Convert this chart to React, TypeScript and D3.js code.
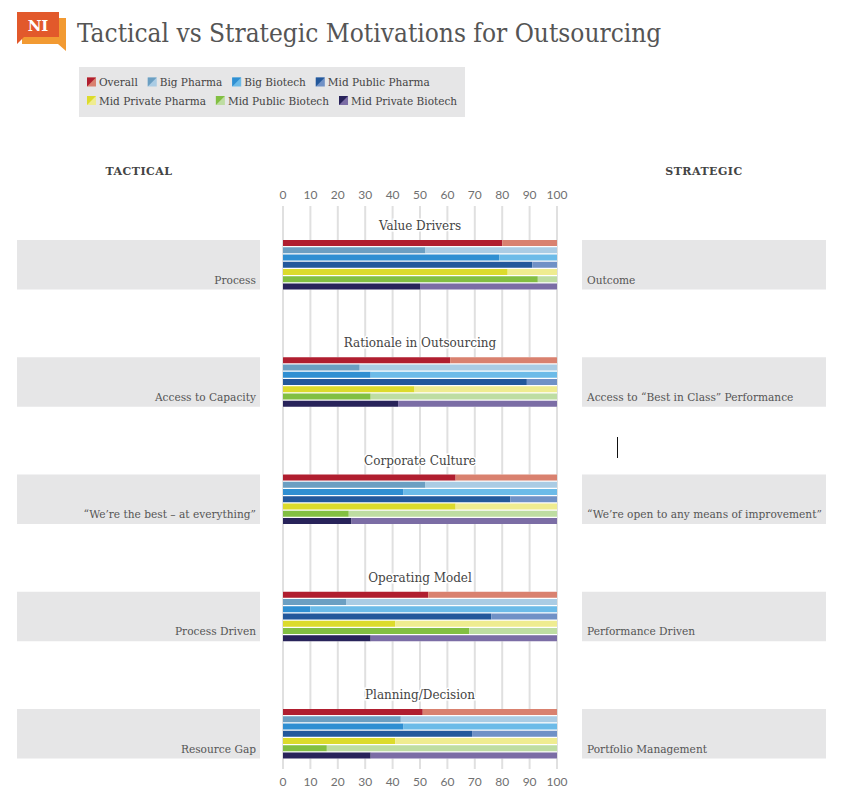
import React, { useEffect } from "react";
import * as d3 from "d3";

const CATEGORIES = [
  "Overall",
  "Big Pharma",
  "Big Biotech",
  "Mid Public Pharma",
  "Mid Private Pharma",
  "Mid Public Biotech",
  "Mid Private Biotech",
];
const DARK = ["#b01e2f", "#6b9fc2", "#2f8fd2", "#23589b", "#dcdb2c", "#82bf42", "#28235a"];
const LIGHT = ["#d9816f", "#aacce4", "#6cbbe8", "#7091c6", "#efec90", "#bedda2", "#7b6da5"];

const GROUPS = [
  "Value Drivers",
  "Rationale in Outsourcing",
  "Corporate Culture",
  "Operating Model",
  "Planning/Decision",
];
const TACTICAL = [
  "Process",
  "Access to Capacity",
  "\u201cWe\u2019re the best \u2013 at everything\u201d",
  "Process Driven",
  "Resource Gap",
];
const STRATEGIC = [
  "Outcome",
  "Access to \u201cBest in Class\u201d Performance",
  "\u201cWe\u2019re open to any means of improvement\u201d",
  "Performance Driven",
  "Portfolio Management",
];

// % tactical share per category
const VALUE_DRIVERS = [80, 52, 79, 91, 82, 93, 50];
const RATIONALE = [61, 28, 32, 89, 48, 32, 42];
const CORPORATE_CULTURE = [63, 52, 44, 83, 63, 24, 25];
const OPERATING_MODEL = [53, 23, 10, 76, 41, 68, 32];
const PLANNING_DECISION = [51, 43, 44, 69, 41, 16, 32];
const VALUES = [VALUE_DRIVERS, RATIONALE, CORPORATE_CULTURE, OPERATING_MODEL, PLANNING_DECISION];

const TICKS = [0, 10, 20, 30, 40, 50, 60, 70, 80, 90, 100];

const SERIF = "'DejaVu Serif', serif";
const SANS = "Lato, 'DejaVu Sans', sans-serif";

const width = 847;
const height = 806;

let ctx: CanvasRenderingContext2D | null = null;
function textWidth(s: string, font: string) {
  if (!ctx) ctx = document.createElement("canvas").getContext("2d");
  if (!ctx) return s.length * 6;
  ctx.font = font;
  return ctx.measureText(s).width;
}

const Swatch = ({ x, y, i }: { x: number; y: number; i: number }) => (
  <g transform={`translate(${x},${y})`}>
    <rect width={9} height={9} fill={LIGHT[i]} />
    <path d="M0,0 L9,0 L0,9 Z" fill={DARK[i]} />
  </g>
);

const App = () => {
  useEffect(() => {
    document.body.style.margin = "0";
  }, []);

  const x = d3.scaleLinear().domain([0, 100]).range([283, 557]);
  const groupY = d3.scaleLinear().domain([0, GROUPS.length - 1]).range([240, 709]);
  const rowY = d3.scaleBand().domain(CATEGORIES).range([0, 49.5]).paddingInner(0.17);
  const blockH = 49.5;

  // legend layout
  const legendFont = `10.5px ${SERIF}`;
  const rows = [CATEGORIES.slice(0, 4), CATEGORIES.slice(4)];
  const legendItems: { name: string; i: number; x: number; y: number }[] = [];
  let idx = 0;
  rows.forEach((row, r) => {
    let cx = 87;
    row.forEach((name) => {
      legendItems.push({ name, i: idx, x: cx, y: 86 + r * 18.5 });
      cx += 12 + textWidth(name, legendFont) + 10;
      idx++;
    });
  });

  return (
    <svg width={width} height={height} style={{ display: "block", background: "#fff" }}>
      {/* logo */}
      <path d="M22,18 L66,18 L66,51 L58,44 L22,44 Z" fill="#f29a32" />
      <path d="M17,12 L59,12 L59,37 L24,37 L17,44 Z" fill="#e2592b" />
      <text x={38} y={31} textAnchor="middle" fill="#fff" fontFamily={SERIF} fontWeight="bold" fontSize={15}>
        NI
      </text>
      <text x={77} y={42} fontFamily={SERIF} fontSize={26} fill="#555" style={{ fontStretch: "condensed" }}>
        Tactical vs Strategic Motivations for Outsourcing
      </text>

      {/* legend */}
      <rect x={79} y={67} width={386} height={50} fill="#e6e6e7" />
      {legendItems.map((d) => (
        <g key={d.name}>
          <Swatch x={d.x} y={d.y - 8.5} i={d.i} />
          <text x={d.x + 12} y={d.y} fontFamily={SERIF} fontSize={10.5} fill="#444">
            {d.name}
          </text>
        </g>
      ))}

      {/* column heads */}
      <text x={139} y={175} textAnchor="middle" fontFamily={SERIF} fontSize={11} fontWeight="bold" fill="#444" letterSpacing={0.5}>
        TACTICAL
      </text>
      <text x={704} y={175} textAnchor="middle" fontFamily={SERIF} fontSize={11} fontWeight="bold" fill="#444" letterSpacing={0.5}>
        STRATEGIC
      </text>

      {/* grid */}
      {TICKS.map((t) => (
        <g key={t}>
          <line x1={x(t)} x2={x(t)} y1={206} y2={769} stroke="#e0e0e0" strokeWidth={2} />
          <text x={x(t)} y={199} textAnchor="middle" fontFamily={SANS} fontSize={12} fill="#707070">
            {t}
          </text>
          <text x={x(t)} y={786} textAnchor="middle" fontFamily={SANS} fontSize={12} fill="#707070">
            {t}
          </text>
        </g>
      ))}

      {GROUPS.map((g, gi) => {
        const top = groupY(gi);
        return (
          <g key={g}>
            <rect x={17} y={top} width={243} height={blockH} fill="#e6e6e7" />
            <rect x={582} y={top} width={244} height={blockH} fill="#e6e6e7" />
            <text x={256} y={top + 43.5} textAnchor="end" fontFamily={SERIF} fontSize={10.6} fill="#555">
              {TACTICAL[gi]}
            </text>
            <text x={587} y={top + 43.5} fontFamily={SERIF} fontSize={10.6} fill="#555">
              {STRATEGIC[gi]}
            </text>
            <text
              x={(x(0) + x(100)) / 2}
              y={top - 10}
              textAnchor="middle"
              fontFamily={SERIF}
              fontSize={12}
              fill="#444"
              stroke="#fff"
              strokeWidth={3}
              style={{ paintOrder: "stroke" }}
            >
              {g}
            </text>
            <rect x={x(0)} y={top} width={x(100) - x(0)} height={blockH} fill="#fff" />
            {CATEGORIES.map((c, ci) => {
              const v = VALUES[gi][ci];
              const y = top + (rowY(c) as number);
              return (
                <g key={c}>
                  <rect x={x(0)} y={y} width={x(v) - x(0)} height={rowY.bandwidth()} fill={DARK[ci]} />
                  <rect x={x(v)} y={y} width={x(100) - x(v)} height={rowY.bandwidth()} fill={LIGHT[ci]} />
                </g>
              );
            })}
          </g>
        );
      })}

      {/* stray cursor mark in the source image */}
      <line x1={617.5} x2={617.5} y1={437} y2={458} stroke="#111" strokeWidth={1} />
    </svg>
  );
};

export default App;
